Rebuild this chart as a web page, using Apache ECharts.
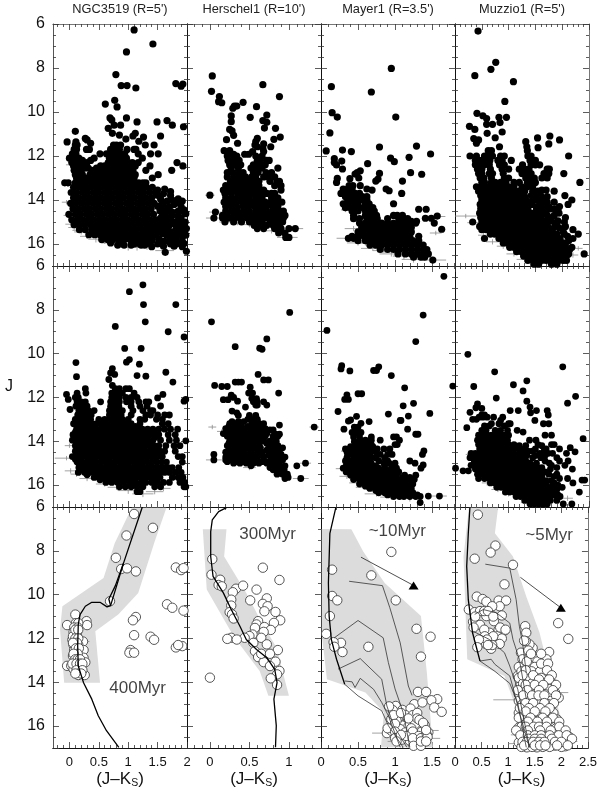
<!DOCTYPE html>
<html><head><meta charset="utf-8">
<script src="https://cdn.jsdelivr.net/npm/echarts@6/dist/echarts.min.js"></script>
<style>html,body{margin:0;padding:0;background:#fff}#c{width:600px;height:790px}</style>
</head><body><div id="c"></div>
<script>
// Every row is [J, colour, colour, ...]
const ngcAll=[[6.27,1.1],[6.91,1.42],[7.27,.97],[8.3,.79],[8.8,.88,.98],[8.91,1.13],[8.71,1.81],[8.83,1.9],[8.73,1.93],[9.47,.77],[9.64,.61],[9.77,.81],[10.27,.69,.97],[10.36,.72],[10.45,1.15,1.49],[10.6,.76,.87,1.75],[10.39,1.66],[10.67,1.94],[10.88,.1],[10.74,.66],[10.97,.73,1.12],[11.05,.85],[11.09,1.08,1.55],[11.23,.96],[11.14,1.26],[11.33,1.18],[11.36,-.04,.11],[11.2,.27],[11.27,.3],[11.42,.36],[11.5,.1,.13,.75,.8,.87,1.29,1.44],[11.7,.08,.12,.29,.34,.7,.78,.85,.98,1.1,1.13],[11.9,.05,.11,.52,.63,.7,.79,.86,.94,1.17,1.38,1.51],
[12.1,0,.05,.1,.16,.42,.68,.75,.83,.9,.97,1.24],[12.3,.04,.09,.14,.21,.3,.66,.72,.79,.86,.93,1,1.07,1.17,1.83],[12.45,.07,.13,.18,.53,.6,.68,.75,.83,.9,.98,1.05,1.12,1.37,1.93],[12.65,.08,.14,.2,.38,.45,.52,.58,.65,.72,.8,.87,.94,1.01,1.08,1.3,1.74],[12.85,.1,.16,.22,.35,.42,.5,.56,.63,.7,.77,.84,.91,.98,1.05,1.12,1.51],[13,.12,.18,.3,.37,.46,.53,.6,.68,.75,.82,.89,.96,1.03,1.1,1.41],[13.22,-.08,-.02,.1,.16,.22,.28,.35,.42,.49,.56,.63,.7,.77,.84,.91,.98,1.05,1.12,1.18,1.25,1.3],
[13.42,.07,.17,.27,.36,.46,.55,.65,.74,.84,.93,1.03,1.12,1.22,1.31,1.41],[13.66,.03,.12,.22,.31,.41,.5,.6,.69,.79,.88,.98,1.07,1.17,1.26,1.36,1.46],[13.9,.07,.16,.26,.35,.45,.54,.64,.73,.83,.92,1.02,1.11,1.21,1.3,1.4],[14.15,.02,.11,.21,.3,.4,.49,.59,.68,.78,.87,.97,1.06,1.16,1.25,1.35,1.44],[14.4,.06,.15,.25,.34,.44,.53,.63,.72,.82,.91,1.01,1.1,1.2,1.29,1.39],[14.65,-.01,.1,.19,.29,.38,.48,.57,.67,.76,.86,.95,1.05,1.14,1.24,1.33,1.43],[14.9,.04,.14,.23,.33,.42,.52,.61,.71,.8,.9,.99,1.09,1.18,1.28,1.37,1.47],[15.12,.08,.17,.26,.36,.45,.55,.64,.74,.83,.93,1.02,1.12,1.21,1.31,1.4,1.5],[15.35,.17,.27,.38,.48,.57,.67,.76,.86,.95,1.05,1.14,1.24,1.33,1.43,1.52],[15.58,.33,.43,.52,.62,.71,.81,.9,1,1.09,1.19,1.28,1.38,1.47],[15.8,.55,.65,.74,.84,.93,1.03,1.12,1.22,1.31,1.41],[16.05,.82,.93,1.05,1.22,1.28],[16.38,1.63],[16.33,1.99],
[13.55,1.5],[13.72,1.6],[13.8,1.72],[13.95,1.55,1.85],[14.05,1.66,1.92],[14.2,1.78],[14.28,1.5,1.6],[14.45,1.7,1.95],[14.5,1.85,1.54],[14.62,1.62,1.98],[14.7,1.75],[14.82,1.9,1.55,1.68],[15,1.8,1.62,1.97],[15.15,1.7,1.9],[15.3,1.6,1.82,1.99],[15.45,1.75,1.92],[15.6,1.65,1.85,1.98],[15.75,1.52,1.78],[15.88,1.92,1.62],[16,1.72,1.82,1.5],[16.12,1.92,1.4],
[12.55,.26,.32,.46],[12.2,.22,.36],[13.05,.24,.25],[13.5,1.62],[13.62,1.72],[13.78,1.5],[14,1.75],[14.12,1.85,1.58],[14.3,1.7,1.9],[14.4,1.58],[14.55,1.65,1.75,1.95],[14.72,1.58,1.85],[14.92,1.72,1.85,1.6],[15.08,1.55,1.78,1.94],[15.22,1.62,1.85],[15.38,1.5,1.68,1.95],[15.52,1.58,1.82],[15.68,1.72,1.92],[15.85,1.4,1.55,1.7,1.82],[15.98,1.32,1.95],[16.1,1.6,1.78],[16,1.1,1.2],[15.95,.7,.9]];
const herAll=[[8.36,.03],[9.06,.02],[9.3,.12,.88],[9.53,.11],[9.58,.15],[9.73,.31,.34],[9.83,.29],[9.56,.42],[9.76,.59],[8.76,.67],[10.18,.27],[10.44,.27],[10.24,.51],[10.14,.72],[10.39,.67],[10.47,.72],[10.73,.69],[10.74,.83],[10.79,.25],[10.86,.28],[11.06,.3],[11.14,.89],[11.24,.81],[11.26,.21],[11.42,.35],[11.2,.6],[11.35,.58],[11.5,.57],[11.58,.6,.77],[11.45,.68],[11.65,.67],[11.76,.18,.25],[11.92,.44,.49,.26,.3],[11.8,.54,.68],[12,.22,.3,.34,.58,.66],[12.2,.23,.31,.37,.6,.64,.72,.75],[12.4,.25,.32,.39,.55,.62,.7],[12.55,.27,.36,.52,.59,.66,.86],[12.75,.22,.29,.35,.42,.55,.61,.71,.78],[12.95,.22,.3,.37,.45,.53,.58,.68,.74,.82],[13.15,.26,.33,.4,.48,.55,.62,.76,.85,.88],[13.35,.2,.28,.34,.42,.5,.57,.62,.82,.9],[13.55,.17,.25,.31,.38,.46,.53,.6,.68,.9],[13.7,.19,.27,.35,.42,.49,.56,.64,.72,.78,.82],[13.78,0],[13.9,.2,.28,.36,.43,.5,.58,.66,.78,.86],[14.1,.18,.26,.33,.41,.48,.55,.62,.7,.77,.84,.91],[14.3,.2,.27,.34,.42,.49,.57,.64,.71,.79,.86],[14.5,.2,.28,.35,.43,.5,.58,.65,.72,.8,.88,.93],[14.55,.07],[14.7,.16,.22,.3,.37,.45,.52,.6,.67,.75,.83,.91,.95],[14.82,.05,.16,.24,.32,.39,.47,.55,.63,.7,.78,.86,.93],[15,.19,.3,.4,.5,.58,.66,.76,.84,.92],[15.15,.56,.65,.72,.8,.88],[15.3,.6,.68,.82,.9,1,1.08],[15.5,.87,.95],[15.7,.96,1]];
const mayAll=[[8.85,.14],[9.09,.68],[8.02,.95],[10.03,.15],[10.23,.22,1.01],[10.95,.12],[11.77,.07],[11.73,.29],[11.8,.41],[11.59,.79],[11.55,1.29],[11.91,1.48],[12.06,1.19],[12.1,.94],[12.26,.99],[12.35,.63],[12.12,.18],[12.3,.18],[12.41,.21],[12.23,.28],[12.59,.29],[12.67,.53],[12.76,.49,1.21],[12.82,.46],[12.79,.79],[12.83,1.36],[13.02,.22],[13.2,.21],[13.03,.39],[13,.51],[13.05,.77],[13.14,.74,1.1],[13.35,.38,.43,.53],[13.5,.3,.36,.42,.62,.88],[13.58,.92],[13.55,.69],[13.7,.27,.33,.39,.46,.52,1.09],[13.85,.33,.39,.44,.5,.56,.62],[14,.36,.42,.48,.57,.62],[14.17,.3,.38,.44,.5,.6,.65,.98],[14.35,.33,.4,.45,.52,.58,.65,.7],[14.42,1.32,1.42],[14.5,.42,.5,.6,.66,.72],[14.7,.44,.6,.68,.75,.98,1.03,1.1],[14.73,1.57],[14.83,1.49,1.41],[14.85,.44,.52,.62,.68,.76,.9,1.05,1.12,1.17],[14.97,1.22,1.29],[15.05,.52,.6,.68,.75,.82,.9,.98,1.05,1.12,1.2,1.28,1.53],[15.25,.55,.62,.7,.77,.84,.92,.99,1.06,1.14,1.2,1.22],[15.33,1.63],[15.45,.5,.58,.65,.72,.8,.87,.95,1.02,1.1,1.17,1.22],[15.65,.42,.5,.58,.66,.74,.82,.9,.98,1.06,1.14,1.2,1.32],[15.74,.37,.44],[15.85,.5,.6,.68,.76,.84,.92,1,1.08,1.16,1.24,1.32],[16.05,.66,.74,.82,.9,.98,1.06,1.14,1.22,1.3,1.38],[16.25,.8,.9,.98,1.06,1.14,1.22,1.3,1.38,1.43],[16.45,1.04,1.14,1.22,1.3,1.38,1.45],[16.6,1.25,1.35,1.4],[16.73,1.51]];
const muzAll=[[6.32,.43],[7.74,.76],[8.06,.67],[8.35,.37],[8.62,1.09],[9.52,.93],[10.06,.41],[10.17,.52],[10.3,.59],[10.24,.82,.96],[10.48,.84],[10.65,.27],[10.79,.37],[10.56,.59,.7],[10.97,.6],[10.91,.88],[11.17,.75],[11.21,.35],[11.27,.44],[11.42,.4],[11.18,1.54],[11.09,1.77],[11.27,1.95],[11.62,1.55],[11.45,1.75],[11.35,1.32],[11.58,1.34,.83],[11.76,1.35,.62,.68],
[12,.28,.4,.55,.62,.7,.85,.92,1.36,1.42,2.12],[12.2,.38,.44,.5,.58,.65,.8,.88,1.05,1.4,1.5],[12.4,.38,.45,.55,.64,.83,.92,1.26,1.42,1.5,1.58],[12.6,.42,.5,.66,.88,1,1.2,1.3,1.38,1.72,1.76],[12.8,.44,.5,.64,.7,.9,1.25,1.34,1.42,1.66,1.75,2.03],[13,.47,.54,.68,.92,1,1.32,1.4,1.48,1.62,1.72],[13.2,.5,.55,.68,.75,.85,.95,1.1,1.2,1.35,1.42,1.5,2.33],[13.4,.4,.5,.58,.65,.72,.8,.9,1,1.1,1.25,1.35,1.45],[13.6,.44,.5,.57,.65,.72,.8,.88,.96,1.05,1.12,1.2,1.3,1.45,1.55,1.85],[13.8,.48,.55,.62,.7,.78,.85,.92,1,1.08,1.15,1.24,1.42,1.5,1.6,2.05],[14,.5,.58,.66,.74,.82,.9,.98,1.08,1.16,1.24,1.32,1.48,1.55,1.65,2.18],[14.2,.47,.55,.63,.71,.79,.87,.95,1.03,1.11,1.19,1.27,1.35,1.43,1.59,1.67,2.11],[14.4,.48,.56,.64,.72,.8,.88,.96,1.04,1.12,1.2,1.28,1.36,1.52,1.6,1.78,1.86],[14.6,.46,.54,.62,.7,.78,.86,.94,1.02,1.1,1.18,1.26,1.34,1.42,1.5,1.66,1.94],[14.8,.48,.56,.64,.72,.8,.88,.96,1.04,1.12,1.2,1.28,1.36,1.44,1.52,1.6,1.76,2.06],[15,.33,.5,.58,.66,.74,.82,.9,.98,1.06,1.14,1.22,1.3,1.38,1.46,1.54,1.62,2.04],[15.2,.46,.54,.62,.7,.78,.86,.94,1.02,1.1,1.18,1.26,1.34,1.42,1.5,1.58,1.66,1.86,2.06],[15.35,.5,.58,.66,.74,.82,.9,.98,1.06,1.14,1.22,1.3,1.38,1.46,1.54,1.62,1.78,2.2],[15.55,.66,.74,.82,.9,.98,1.06,1.14,1.22,1.3,1.38,1.46,1.54,1.62,1.7,1.9,2.04,2.3],[15.75,.55,.82,.9,.98,1.06,1.14,1.22,1.3,1.38,1.46,1.54,1.62,1.7,1.78,1.96,2.2],[15.95,.9,.98,1.06,1.14,1.22,1.3,1.38,1.46,1.54,1.62,1.7,1.78,1.86,2.02],[16.15,1.02,1.1,1.18,1.26,1.34,1.42,1.5,1.58,1.66,1.74,1.82,1.9,1.98,2.18],[16.35,1.15,1.24,1.32,1.4,1.48,1.56,1.64,1.72,1.8,1.88,1.96,2.04],[16.45,2.41],[16.55,1.28,1.36,1.44,1.52,1.6,1.68,1.76,1.84,1.92,2,2.08],[16.75,1.36,1.46,1.54,1.62,1.7,1.78,1.86,1.94,2.02,2.08],[16.92,1.48,1.56,1.8,1.9],
[13.55,1.7,1.62],[13.85,1.72,1.3],[14.1,1.42,1.72,1.85],[14.3,1.52,1.75,1.95],[14.5,1.58,1.7,1.92],[14.7,1.58,1.72,1.85],[14.95,1.7,1.8,1.92],[15.1,1.62,1.72,1.9],[15.28,1.75,1.95,1.65],[15.45,1.7,1.82,2.02],[15.65,1.78,1.88,2.1],[15.85,1.85,1.95,2.12],[16.05,1.9,2.06],[16.25,2.08,2.14],[16.45,2.12]];
const ngcCtl=[[6.86,1.25],[7.17,1.02],[7.76,1.26,1.81],[8.55,1.29],[8.76,.78],[9,1.68],[9.24,1.95],[9.76,.94,1.22],[10.27,1.02],[10.39,.97],[10.48,1.19],[10.41,.11],[10.68,.73],[10.88,.7],[10.95,.77],[11.05,.12],[11,1.15],[11.03,1.3],[10.85,1.64],[11.18,.67],[11.3,1.76],[11.45,.73],[11.86,-.05,1.59],[12.02,1.5],[12.17,1.95],[12.09,1.98,-.02],[12.39,1.55],[13.98,1.98],[12.55,.01],
[11.6,.27,.78,.85,.96,1.02],[11.8,.13,.28,.72,.8,.9,1.1],[12,.1,.15,.72,.78,.85,.96,1.05,1.15],[12.2,.13,.2,.27,.53,.7,.78,.85,.97,1.05,1.18,1.3,1.35],[12.4,.11,.17,.23,.3,.7,.77,.84,1.05,1.2,1.32],[12.6,.16,.25,.32,.42,.68,.76,.83,.9,1.08,1.25,1.38,1.42],[12.8,.14,.22,.3,.37,.68,.75,.82,.88,1.05,1.3,1.38,1.5,1.62,1.7],[13,.1,.2,.28,.36,.5,.6,.68,.75,.83,.9,1,1.2,1.28,1.48,1.58],[13.2,.07,.14,.22,.3,.38,.46,.55,.64,.72,.8,.88,.96,1.05,1.2,1.58,1.68],[13.45,.12,.2,.28,.36,.44,.52,.6,.68,.76,.84,.92,1,1.08,1.16,1.24,1.33,1.42,1.52,1.62,1.72,1.84],[13.7,.06,.16,.24,.32,.4,.48,.56,.64,.72,.8,.88,.96,1.04,1.12,1.2,1.28,1.36,1.44,1.52,1.68,1.8],[13.95,.05,.1,.2,.28,.36,.44,.52,.6,.68,.76,.84,.92,1,1.08,1.16,1.24,1.32,1.42,1.55,1.7,1.82],[14.2,.1,.15,.24,.32,.4,.48,.56,.64,.72,.8,.88,.96,1.04,1.12,1.2,1.28,1.36,1.44,1.52,1.64,1.78,1.88],[14.45,.1,.18,.26,.34,.42,.5,.58,.66,.74,.82,.9,.98,1.06,1.14,1.22,1.3,1.38,1.46,1.54,1.62,1.8],[14.7,.05,.14,.22,.3,.38,.46,.54,.62,.7,.78,.86,.94,1.02,1.1,1.18,1.26,1.34,1.42,1.5,1.58,1.85,1.92],[14.95,.13,.21,.29,.37,.45,.53,.61,.69,.77,.85,.93,1.01,1.09,1.17,1.25,1.33,1.41,1.49,1.57,1.65,1.92],[15.2,.16,.24,.32,.4,.48,.56,.64,.72,.8,.88,.96,1.04,1.12,1.2,1.28,1.36,1.44,1.52,1.6,1.68,1.75,1.86],[15.42,.15,.26,.34,.42,.5,.58,.66,.74,.82,.9,.98,1.06,1.14,1.22,1.3,1.38,1.46,1.54,1.62,1.7,1.8,1.9],[15.65,.42,.5,.58,.66,.74,.82,.9,.98,1.06,1.14,1.22,1.3,1.38,1.46,1.54,1.75,1.85,1.93],[15.88,.62,.72,.82,.92,1.02,1.12,1.22,1.3,1.4,1.5,1.6,1.7,1.88,1.96],[16.08,.85,.95,1.05,1.15,1.25,1.45,1.55,1.95,1.98],[16.3,1.15,1.2],
[13.32,.16,.26,.34,.43,.6,.7,.86,1.12,.98],[13.58,.1,.18,.26,.34,.46,.58,.66,.78,.9,1.02,1.14,1.26,1.38,1.5],[13.82,.13,.24,.36,.48,.6,.72,.84,.96,1.08,1.2,1.32,1.46],[14.08,.14,.25,.36,.5,.62,.74,.86,.98,1.1,1.22,1.36],[14.32,.17,.29,.41,.53,.65,.77,.89,1.01,1.13,1.25,1.4],[14.58,.12,.24,.36,.48,.6,.72,.84,.96,1.08,1.2,1.32,1.46],[14.82,.1,.2,.32,.44,.56,.68,.8,.92,1.04,1.16,1.28,1.42],[15.08,.17,.28,.4,.52,.64,.76,.88,1,1.12,1.24,1.38],[15.32,.22,.34,.46,.58,.7,.82,.94,1.06,1.18,1.3,1.44],[15.53,.3,.46,.6,.72,.84,.96,1.08,1.2,1.34,1.5],[15.76,.52,.64,.76,.88,1,1.12,1.26,1.42]];
const herCtl=[[8.55,.02],[8.12,1.01],[9.68,.32],[9.33,.72],[9.75,.63],[9.8,.66],[10.95,.61],[11.45,.06],[11.5,.15,.22],[11.3,.32,.36,.4],[11.2,.68,.74],[11.53,.51],[11.8,.87,.49,.54],[13.35,1.32],[12.1,.17,.23],[11.9,.27],[12,.3],[12.17,.35],[12.05,.53,.59],[12.2,.55,.6,.68],[12.35,.58,.6,.72],[12.44,.45],[12.62,.28],[12.7,.34],[12.82,.36,.5,.58],[13,.48,.55,.6],[13.2,.25,.32,.38,.53,.62,.68],[13.26,.88],[13.42,.2,.28,.36,.44,.55,.62,.7],[13.48,.76,.8],[13.65,.17,.25,.33,.41,.48,.56,.64,.72],[13.68,.88,.83],[13.88,.29,.37,.45,.53,.6,.68,.8],[14.1,.24,.32,.4,.48,.55,.62,.72,.8],[14.3,.25,.33,.41,.49,.57,.64,.75,.83,.92],[14.5,.2,.28,.36,.44,.52,.6,.66,.76,.84],[14.6,.05,.9],[14.72,.2,.27,.35,.43,.51,.59,.68,.78,.86,.95],[14.85,.05,.2,.28,.36,.44,.52,.6,.68,.77,.85,.92],[15,.3,.38,.46,.55,.62,.72,.8,.88,1.21],[15.12,.52,.8,.95,1.1],[15.3,.8,.87,.94],[15.5,.85,.92,.98],[15.65,.99],[15.7,1.15,.95],
[13.1,.28,.36,.43,.6],[13.32,.24,.32,.4,.48,.58,.66],[13.54,.22,.3,.38,.46,.52,.6,.68],[13.77,.22,.3,.39,.47,.55,.62,.7,.8,.86],[14,.25,.33,.42,.5,.58,.66,.76,.84],[14.2,.22,.29,.37,.45,.53,.6,.78,.86],[14.4,.27,.35,.43,.52,.62,.72,.8,.88],[14.62,.22,.32,.4,.48,.56,.64,.74,.82,.9],[14.93,.22,.34,.42,.5,.58,.66,.74,.82],[15.2,.76,.84,.9]];
const mayCtl=[[6.47,1.66],[8.24,1.38],[8.94,.08],[9.45,1.28],[10.55,.28],[10.7,.27],[10.79,.39],[10.77,.71,.75],[10.6,.78],[11,.95],[11.56,1.13],[11.48,1.78],[11.88,.35],[12.09,.32,.37],[11.83,.5,.55],[12.38,1.11],[12.27,1.25],[12.64,.23],[12.76,.91],[12.73,1.47],[12.85,1.18],[12.86,.48],[13.05,1.07,1.08],[13.08,.37],[13.03,.4],[13.1,.65],[13.18,.54],[13.45,.31,1.17],[13.35,.45,.5],[13.68,1.28,1.31],[13.6,.42,.48,.54],[13.8,.44,.52,.68,.98,1.02],[13.95,.53,.6,.68,.8,1.06],[14.15,.5,.58,.68,1,1.03],[14.44,1.39],[14.35,.33,.38,.44,.5,.56,.63,.76,.85,.93],[14.6,.36,.42,.48,.54,.6,.66,.8,.9,.96,1.37],[14.9,.33,.42,.5,.58,.66,.78,.9,1.2],[15,.37,.44,.52,.6,.68,.85,.92,1,1.27],[15.08,1.38],[15.23,.3,.38,.46,.54,.62,.7,.78,.95,1.02,1.35],[15.4,.34,.42,.5,.58,.66,.74,.82,.9,.98,1.05],[15.55,.4,.46,.54,.62,.7,.78,.86,.94,1.02,1.13,1.28],[15.75,.44,.52,.6,.68,.76,.84,.92,1,1.08,1.15,1.26],[15.95,.52,.6,.68,.76,.84,.92,1,1.08,1.16,1.24],[16.15,.66,.74,.82,.9,.98,1.06,1.14,1.22],[16.35,.78,.86,.94,1.02,1.1,1.18,1.24],[16.52,.98,1.06,1.12,1.2,1.28,1.34],[16.5,1.45,1.6],[16.8,1.34],
[14.02,.45,.55,.63],[14.25,.4,.47,.54,.62,.7],[14.48,.35,.45,.52,.6,.68,.74],[14.75,.35,.44,.52,.6,.68,.74,.86],[15.12,.34,.42,.5,.58,.66,.74,.86],[15.32,.38,.46,.54,.62,.7,.8,.88,.96],[15.65,.48,.56,.64,.72,.8,.88,.96,1.1,1.2],[15.85,.56,.64,.72,.8,.88,.96,1.04,1.12,1.22],[16.05,.6,.7,.78,.86,.94,1.02,1.1,1.2],[16.25,.74,.84,.92,1,1.08,1.18],[16.45,.9,1,1.1,1.2,1.3]];
const muzCtl=[[10.03,.24],[10.6,2.01],[10.83,.74],[11.24,1.34],[11.5,.35],[11.42,1.09],[11.7,1.27],[11.95,2.25],[12.03,.77],[12.17,1.34],[12.26,2.1],[12.44,1.4],[12.29,.42],[12.47,.39],[12.5,.5],[12.68,.28],[12.6,1.03,1.18,1.52,1.72],[12.8,1.74,.5,.55],[12.7,1.41],[12.9,.72,.89,.45,.52,.6],[13.05,1.49,.85],[13,.33,.4],[13.2,1.75,1.65,.68,.82,1,1.03],[13.38,.22],[13.3,.55,.64,.92],[13.5,.5,.58,.75,.85,.98,1.16],[13.58,1.27],[13.72,.44,.52,.6,.68,.76,.84,.92,1,1.68,1.8],[13.95,.42,.5,.58,.66,.74,.82,.9,.98,1.39,1.51],[13.88,2.39],[14.15,.44,.52,.6,.68,.76,.84,.92,1,1.1,1.55,1.8,1.85],[14.29,2.15],[14.35,.46,.54,.62,.7,.78,.86,.94,1.02,1.1,1.2,1.3,1.5,1.7,1.95],[14.48,2.24],[14.55,.3,.38,.46,.54,.62,.7,.78,.86,.94,1.02,1.1,1.2,1.26,1.58,1.74,1.82,2.08],[14.75,.28,.38,.46,.54,.62,.7,.78,.86,.94,1.02,1.1,1.18,1.26,1.45,1.6,1.9],[14.9,.36,.44,.52,.6,.68,.76,.84,.92,1,1.08,1.16,1.24,1.32,1.68,1.95,2.11],[15.1,.3,.4,.48,.56,.64,.72,.8,.88,.96,1.04,1.12,1.2,1.28,1.36,1.44,1.8,2.05],[15.27,.38,.46,.54,.62,.7,.78,.86,.94,1.02,1.1,1.18,1.26,1.34,1.42,1.5,1.78,2.19],[15.23,.01],[15.35,.15,.25],[15.5,.42,.5,.58,.66,.74,.82,.9,.98,1.06,1.14,1.22,1.3,1.38,1.46,1.75,1.9],[15.7,.44,.55,.64,.72,.8,.88,.96,1.04,1.12,1.2,1.28,1.36,1.44,1.52,1.95,2.1],[15.77,2.37,2.42],[15.9,.66,.74,.82,.9,.98,1.06,1.14,1.22,1.3,1.38,1.46,1.54,1.62,1.85,2.2],[16.1,.78,.86,.94,1.02,1.1,1.18,1.26,1.34,1.42,1.5,1.58,1.66,1.74,2],[16.32,.94,1.02,1.1,1.18,1.26,1.34,1.42,1.5,1.58,1.66,1.74,1.82,2.32],[16.52,1.14,1.22,1.3,1.38,1.46,1.54,1.62,1.7,1.78,1.96],[16.7,1.3,1.38,1.46,1.54,1.62,1.7,1.78,1.9],[16.86,1.4,1.48,1.56,1.64,1.72,2.18,2.02],
[14.2,1.2,1.32,1.62],[14.45,1.36,1.44,1.66],[14.65,1.34,1.5,1.68],[15,1.4,1.52,1.76],[15.2,1.55,1.62,1.9],[15.4,1.5,1.58,1.68],[15.6,1.55,1.62,1.85],[15.8,1.6,1.7,1.8],[16,1.7,1.82,1.92],[16.2,1.82,1.9],[16.45,1.85,1.92]];
const ngcSel=[[6.32,1.1],[6.95,1.42],[7.3,.97],[8.32,.79],[8.83,.88],[8.8,.98],[8.94,1.13],[8.76,1.81],[8.88,1.9],[8.79,1.94],[10.3,.69],[10.44,1.66],[10.6,1.75],[10.73,1.94],[10.91,.1],[11.02,1.13],[11.17,1.08],[11.21,.29],[11.39,.3,-.04],[11.3,.11,.15],[11.5,.08,.14],[11.85,1.1],[11.92,1.38],[12.06,1.44,.05],[11.7,.07,.13],[11.9,.06,.13],[12.14,.23,.09],[12.3,.07,.15],[12.35,1.92],[12.41,1.81],[12.3,1.85],[12.53,1.04,.24,.08,.14],[12.65,1.02,1.1,.09],[12.8,.06,.13],[12.88,.24],[13.09,.27,.1],[13.25,-.04,.03,.14],[13.3,.08,.17],[13.4,.2,.07],[13.55,.14,.18],[13.67,.26,.15],[11.6,.1,.15],[12,.1,.15],[12.2,.13,.06],[12.45,.11,.16],[12.7,.14,.07],[12.95,.1,.14,.18],[13.15,.05,.12,.18,.22],[13.45,.12,.22],[13.6,.2,.1]];
const herSel=[[8.38,.03],[8.77,.67],[9.09,.02],[9.33,.88],[9.32,.13],[9.56,.11],[9.62,.15],[9.73,.33],[9.89,.29],[9.59,.42],[9.77,.59],[10.26,.51],[10.23,.27],[10.5,.27],[10.17,.72],[10.42,.67],[10.53,.73],[10.76,.69],[10.79,.83],[10.8,.25],[10.9,.28],[11.09,.3],[11.17,.89],[11.29,.81],[11.21,.61],[11.36,.59],[11.52,.57],[11.48,.69],[11.61,.77],[11.7,.68],[11.82,.54],[11.89,.5],[11.97,.44,.27,.65],[12.02,.22],[12.05,.34],[12.2,.55],[12.27,.72],[12.58,.57],[12.53,.86],[12.85,.61],[13.08,.68],[12.7,.65,.76],[13.06,.83],[13.26,.76],[13.48,.88],[13.64,.85],[13.82,.77],[14.12,.85],[13.79,0]];
const maySel=[[8.05,.95],[8.86,.15],[9.12,.68],[10.06,.15],[10.26,.22,1.01],[10.98,.12],[11.79,.07],[11.56,1.29],[11.92,1.48],[12.2,.27],[12.17,.17],[12.38,.18,.64],[12.62,.29],[12.83,1.35],[14.44,1.31,1.42],[14.77,1.57],[14.82,1.49],[15,1.26],[14.92,1.37],[15.15,1.53],[15.35,1.63],[15.08,1.01],[15.27,.97],[15.26,1.1],[15.2,1.21],[15.6,1.05],[15.68,.95],[15.83,1.17],[15.98,1.1],[16.02,1,1.18,1.34],[16.32,.89],[16.36,1.03],[16.14,1.31,1.07],[16.44,1.24],[16.56,1.41],[16.26,1.36],[16.29,1.14,1.45],[15.91,1.27],[16.62,1.09],[16.67,1.2],[16.77,1.29],[16.21,.95],[15.5,1.14,1.24],[15.75,1.02],[15.4,1.3],[15.1,.92],[15.5,.98],[15.9,1],[15.65,1.3,1.18],[16.1,.9,1.22],[16.25,1,1.24],[16.45,1.32,1.15],[16.55,1,1.24,1.35],[16.4,1.43],[16.9,1.25,1.35],[15.72,1.33],[15.95,1.4],[16.4,1.08],[15.4,1.08],[15.85,1.38],[16.5,1.44],[16.7,1.35,1.42,1.02],[16.18,1.42]];
const muzSel=[[6.35,.43],[7.76,.76],[8.08,.67],[8.36,.37],[8.64,1.09],[9.53,.93],[10.09,.41],[10.2,.52],[10.32,.59],[10.27,.82,.96],[10.68,.26],[10.53,.84,.7],[10.8,.37],[10.98,.59],[10.95,.88],[11.24,.34],[11.38,.47],[11.21,.73],[11.3,1.94],[12.02,2.13],[11.44,1.32],[11.74,.65,1.34],[11.64,.93],[11.6,.82],[11.9,.8],[12,.88],[12.17,.52],[12.47,.68],[12.25,.58,.84],[12.62,1.77],[12.43,1.46],[12.27,1.4],[12.12,1.33],[12.65,1.24],[12.95,1.72,1.27],[12.88,1.48],[13.71,1.18],[13.59,1.37],[13.64,1.55],[13.41,1.65],[13.25,1.3,1.42],[13.94,1.7,1.3,1.45],[14.17,1.74,1.22,1.38,1.55],[14.47,1.88,1.27],[14.7,1.95,1.42,1.62,1.75],[14.4,1.43,1.65],[14.24,1.55],[14.89,1.29,1.5],[14.77,1.58],[15.1,1.71,1.35,1.52],[15.53,1.37,1.52],[15.5,1.77],[15.6,1.58,1.28],[15.15,1.46],[16,1.87,1.43],[16.22,2,1.55],[16.07,1.2],[16.14,1.65],[16.6,2.11],[16.67,1.99,1.27],[16.63,1.77],[16.45,1.58],[16.37,1.43],[16.82,1.43,1.65],[16.97,1.54,1.35],[16.89,1.87],[16.92,2.07],[16.5,1.85,1.25],[16.9,1.75],
[12.1,1.3],[12.55,1.38],[13.05,1.35,1.55],[13.3,1.2,1.5],[13.5,1.25,1.44,1.6],[13.8,1.2,1.35,1.52,1.62],[14.05,1.28,1.45,1.6,1.83],[14.3,1.3,1.48,1.62,1.78],[14.55,1.2,1.35,1.5,1.7,1.82],[14.85,1.2,1.4,1.62,1.8],[15,1.27,1.42,1.58,1.75],[15.25,1.25,1.4,1.55,1.65,1.8],[15.4,1.2,1.48,1.62,1.72,1.85],[15.7,1.25,1.35,1.45,1.65,1.78,1.92],[15.85,1.3,1.52,1.68],[16.1,1.28,1.38,1.5,1.62,1.74,1.9],[16.3,1.2,1.32,1.46,1.65,1.75,1.88,2.05],[16.5,1.32,1.44,1.55,1.7,1.9,2.02,2.15],[16.75,1.2,1.3,1.4,1.52,1.6,1.72,1.82,1.95,2.05],[16.95,1.25,1.45,1.65,1.78,2],
[10.75,.47,.55,.62],[11,.38,.72],[11.5,.35,.85],[11.6,.55,.95],[11.9,.56,.72],[12.05,.6,.45],[12.3,.7,.62],[12.4,.42],
[12.7,1.43,1.62],[13.15,1.62,1.75],[13.45,1.33,1.73],[13.68,1.27,1.47,1.82],[13.87,1.58,1.77],[14.12,1.33,1.5,1.66,1.9],[14.36,1.18,1.36,1.58,1.84],[14.6,1.28,1.45,1.57,1.68,1.9],[14.95,1.33,1.47,1.68,1.86],[15.18,1.22,1.39,1.6,1.78],[15.33,1.33,1.5,1.7],[15.62,1.2,1.42,1.65,1.84],[15.8,1.37,1.55,1.73,1.96],[16.03,1.25,1.33,1.48,1.58,1.72,1.96],[16.2,1.15,1.37,1.6,1.8,2.08],[16.42,1.23,1.37,1.5,1.62,1.78,1.95,2.1],[16.58,1.38,1.5,1.62,1.82,2.2],[16.72,1.27,1.35,1.47,1.58,1.68,1.88,2],[16.88,1.3,1.5,1.6,1.7,1.92,2.12]];
// Measurement errors: [colour, J, err colour, err J]
const ngcAllErr=[[.03,15.1,.1,.12],[.08,15.25,.1,.12],[.2,15.45,.12,.12],[.3,15.65,.12,.12],[.45,15.78,.13,.15],[.72,15.95,.16,.15],[1,16.15,.18,.15],[1.32,16.12,.18,.15],[1.62,16.3,.16,.15],[1.9,16,.12,.15],[0,14.7,.1,.1],[-.05,14.1,.08,.1],[-.03,13.3,.08,.1],[.02,12.4,.08,.1],[.6,15.85,.12,.15],[.15,15.38,.1,.12],[1.15,16.15,.15,.15]];
const herAllErr=[[.05,14.82,.1,.12],[.07,14.55,.08,.1],[0,13.78,.06,.1],[.2,15,.08,.12],[.5,15.12,.08,.12],[.78,15.4,.1,.12],[1.1,15.3,.08,.12],[.98,15.7,.13,.12],[.3,12.75,.06,.1],[.35,15.05,.08,.1]];
const mayAllErr=[[.37,15.74,.16,.12],[.44,15.3,.12,.12],[.5,15.95,.15,.12],[.7,16.2,.16,.12],[.95,16.45,.16,.12],[1.25,16.7,.16,.15],[1.51,16.73,.18,.15],[1.55,15.5,.08,.1],[1.6,14.75,.08,.1],[.33,14.45,.06,.1],[.6,15.95,.13,.12],[.85,16.3,.15,.12],[1.12,16.55,.15,.15]];
const muzAllErr=[[.2,14.73,.2,.1],[.33,15.03,.1,.1],[.53,15.6,.1,.12],[.9,16.1,.12,.12],[1.3,16.7,.15,.12],[2.2,16.5,.1,.12],[2.3,16.2,.08,.1],[1.85,14.4,.08,.1],[.7,15.9,.12,.12],[1.1,16.45,.14,.12]];
const ngcCtlErr=[[-.05,14.77,.2,.1],[.02,15.35,.1,.12],[.12,15.5,.1,.12],[.3,15.7,.13,.12],[.6,15.95,.15,.12],[1,16.25,.18,.15],[1.25,16.4,.18,.15],[1.6,16.15,.12,.12],[0,14.2,.08,.1],[.8,16.1,.15,.12],[1.45,16.3,.15,.12]];
const herCtlErr=[[.05,14.85,.1,.12],[.03,13.35,.05,.1],[.15,13.55,.06,.1],[1.32,13.35,.06,.1],[.5,15.2,.08,.12],[1.21,15,.07,.1],[1.15,15.7,.1,.1],[.95,15.6,.08,.12]];
const mayCtlErr=[[.3,15.25,.1,.12],[.35,15.6,.1,.12],[.5,15.9,.12,.12],[.75,16.4,.16,.12],[1.2,16.6,.16,.15],[1.6,16.5,.1,.12],[.35,14.45,.08,.1],[.91,12.76,.05,.1],[.62,16.1,.15,.12],[.95,16.55,.15,.12]];
const muzCtlErr=[[.3,14.6,.1,.1],[.35,15.1,.08,.1],[.6,15.9,.1,.12],[1,16.4,.12,.12],[1.35,16.8,.12,.12],[2.1,16.6,.1,.12],[1.6,16.88,.18,.12],[.8,16.2,.12,.12]];
const ngcSelErr=[[.24,12.14,.1,.1],[.08,13.25,.1,.1]];
const herSelErr=[[.72,12.27,.06,.1]];
const maySelErr=[[.89,16.32,.2,.15],[1.2,16.1,.15,.15],[1.41,16.56,.2,.2],[1.05,16.7,.15,.15],[1.45,16.2,.14,.1]];
const muzSelErr=[[1.22,14.8,.5,.15],[1.88,14.47,.25,.1],[1.3,16,.2,.15],[1.2,16.8,.2,.15],[2.15,16.7,.15,.15],[1.2,16.4,.15,.15]];
// Grey sequence bands: [colour, J]
const ngcBand=[[1.06,6.03],[1.65,6.03],[1.45,7.58],[1.17,9.92],[.83,10.91],[.44,11.67],[.52,14.02],[-.09,14.02],[-.16,11.59],[-.12,10.53],[.58,9.24],[.77,7.65]];
const herBand=[[-.09,7.02],[.21,7.02],[.18,8.26],[.46,9.92],[.63,11.1],[.84,12.4],[1,14.62],[.74,14.62],[.63,13.48],[.3,11.9],[-.04,9.77]];
const mayBand=[[.01,7],[.41,7.02],[.57,8.03],[.86,9.47],[1.35,10.98],[1.43,13.56],[1.51,16.97],[.81,16.97],[.85,15.38],[.6,14.47],[.08,13.86],[.01,11.8]];
const muzBand=[[.26,6.03],[.81,6.03],[.75,7.2],[1.09,8.26],[1.34,10.08],[1.59,11.74],[1.96,15.38],[2.21,16.97],[1.15,16.97],[1.18,15.38],[.93,13.71],[.23,12.95],[.16,8.26]];
// Isochrones: [colour, J]
const ngcIso=[[1.24,6],[.92,8.56],[.7,10.5],[.64,10.56],[.52,10.35],[.38,10.35],[.27,10.53],[.18,10.91],[.15,11.36],[.14,12.35],[.15,13.26],[.24,14.02],[.38,14.77],[.49,15.53],[.63,16.21],[.84,16.97]];
const ngcIsoB=[[.92,8.56],[.78,9.6],[.67,10.2],[.7,10.5]];
const herIso=[[.21,6.03],[.11,6.21],[.03,6.59],[.01,7.12],[.01,8.26],[.04,9.17],[.17,9.92],[.27,10.68],[.38,11.44],[.46,12.05],[.59,12.5],[.72,12.88],[.82,13.41],[.85,14.02],[.81,14.77],[.84,15.98],[.83,16.97]];
const mayIso=[[.2,6.03],[.12,7.2],[.1,9.47],[.11,10.98],[.14,12.05],[.21,12.95],[.32,14.09]];
const mayPmsA=[[.38,9.39],[.83,9.59],[.93,10.6],[1.07,12.2],[1.18,14.17],[1.23,14.6]];
const mayPmsB=[[.18,11.97],[.5,11.18],[.84,11.97],[.91,13.1],[1,14.3],[1.11,15.38],[1.2,16.97]];
const mayPmsC=[[.23,13.4],[.53,12.92],[.82,13.86],[.89,15.08],[.98,15.98],[1.16,16.97]];
const mayPmsD=[[.32,13.94],[.42,13.98],[.46,14.24],[.53,13.82],[.71,14.32],[.82,14.92],[.91,15.53],[1.07,16.97]];
const mayPmsE=[[.32,14.09],[.5,14.62],[.82,15.3],[.91,15.98],[1.11,16.97]];
const muzIso=[[.28,6.03],[.25,7.2],[.22,8.71],[.25,10.23],[.33,11.74],[.47,13.03]];
const muzPmsA=[[.57,8.61],[1.03,8.79],[1.15,10.23],[1.21,11.44],[1.27,12.2],[1.34,13.56]];
const muzPmsB=[[.37,10.9],[.53,10.68],[.78,10.83],[1.03,11.3],[1.09,12.05],[1.21,12.95],[1.34,14.77]];
const muzPmsC=[[.34,11.67],[.65,12.05],[.93,12.65],[1.03,13.26],[1.18,14.32],[1.27,15.38],[1.4,16.97]];
const muzPmsD=[[.47,13.03],[.68,12.95],[.75,13.18],[1.03,13.71],[1.1,14.32],[1.21,15.38],[1.4,16.97]];
const muzPmsE=[[.47,13.03],[.75,13.5],[1.03,14.05],[1.18,14.95],[1.34,16.97]];
const mayArrow=[[.54,8.29],[1.25,9.58]];
const muzArrow=[[1.23,9.21],[1.99,10.6]];
const ageLabels=[['400Myr',1.16,14.27],['300Myr',.73,7.23],['~10Myr',1.03,7.09],['~5Myr',1.77,7.27]];
const clusterNames=["NGC3519 (R=5')","Herschel1 (R=10')","Mayer1 (R=3.5')","Muzzio1 (R=5')"];
const xRanges=[[-.28,2],[-.29,1.406],[0,1.81],[0,2.5]];
const xMajors=[[0,.5,1,1.5,2],[0,.5,1],[0,.5,1,1.5],[0,.5,1,1.5,2,2.5]];
const xMinors=[
 [-.2,-.1,.1,.2,.3,.4,.6,.7,.8,.9,1.1,1.2,1.3,1.4,1.6,1.7,1.8,1.9],
 [-.2,-.1,.1,.2,.3,.4,.6,.7,.8,.9,1.1,1.2,1.3],
 [.1,.2,.3,.4,.6,.7,.8,.9,1.1,1.2,1.3,1.4,1.6,1.7,1.8],
 [.1,.2,.3,.4,.6,.7,.8,.9,1.1,1.2,1.3,1.4,1.6,1.7,1.8,1.9,2.1,2.2,2.3,2.4]];
const colLefts=[53,187,321,455];
const rowTops=[24,266,507];
const rowHeights=[242,241,242];

const pts=rows=>rows.flatMap(r=>r.slice(1).map(c=>[c,r[0]]));
const FONT='"Liberation Sans", Arial, sans-serif';
const grid=[],xAxis=[],yAxis=[],series=[],title=[];
const edgeCol='#555',inCol='#111';

function addPanel(row,col){
  const g=grid.length;
  grid.push({left:colLefts[col],top:rowTops[row],width:134,height:rowHeights[row]});
  const [xmin,xmax]=xRanges[col];
  const base=xAxis.length;
  const topColor=row===0?'#777':inCol;
  const tick=(position,values,len,color,extra)=>Object.assign({
    type:'value',gridIndex:g,position,min:xmin,max:xmax,
    splitLine:{show:false},
    axisLine:{show:true,onZero:false,lineStyle:{color,width:1}},
    axisTick:{show:true,inside:true,length:len,customValues:values,lineStyle:{color:'#333',width:.8}},
    axisLabel:{show:false}
  },extra||{});
  const labelled=row===2?{
    axisLabel:{show:true,customValues:xMajors[col],fontFamily:FONT,fontSize:13,color:'#111',margin:8,hideOverlap:false,showMinLabel:true,showMaxLabel:true},
    name:'{a|(J\u2013K}{s|S}{a|)}',nameLocation:'middle',nameGap:22,
    nameTextStyle:{rich:{a:{fontFamily:FONT,fontSize:17,color:'#111'},s:{fontFamily:FONT,fontSize:10.5,color:'#111',verticalAlign:'bottom',padding:[8,0,0,0]}}}
  }:{};
  xAxis.push(tick('bottom',xMajors[col],6,inCol,labelled));
  xAxis.push(tick('bottom',xMinors[col],3,inCol));
  xAxis.push(tick('top',xMajors[col],6,topColor));
  xAxis.push(tick('top',xMinors[col],3,topColor));
  const ya=(position,color,extra)=>Object.assign({
    type:'value',gridIndex:g,inverse:true,position,min:6,max:17,interval:2,
    splitLine:{show:false},
    axisLine:{show:true,onZero:false,lineStyle:{color,width:1}},
    axisTick:{show:true,inside:true,length:6,lineStyle:{color:'#333',width:.8}},
    minorTick:{show:true,splitNumber:4,length:3,lineStyle:{color:'#333',width:.8}},
    axisLabel:{show:false}
  },extra||{});
  const yLab=col===0?{axisLabel:{show:true,fontFamily:FONT,fontSize:16,color:'#111',margin:8,showMaxLabel:false}}:{};
  const yName=(col===0&&row===1)?{name:'J',nameLocation:'middle',nameRotate:0,nameGap:40,nameTextStyle:{fontFamily:FONT,fontSize:16,color:'#111',padding:[0,0,14,0]}}:{};
  yAxis.push(ya('left',col===0?edgeCol:inCol,Object.assign(yLab,yName)));
  yAxis.push(ya('right',col===3?'#777':inCol));
  return {xAxisIndex:base,yAxisIndex:2*g};
}
function errSeries(ax,data){
  series.push(Object.assign({type:'custom',data,z:2,silent:true,clip:false,
    encode:{x:0,y:1},
    renderItem(p,api){
      const c=api.value(0),J=api.value(1),ex=api.value(2),ey=api.value(3);
      const a=api.coord([c-ex,J]),b=api.coord([c+ex,J]),d=api.coord([c,J-ey]),e=api.coord([c,J+ey]);
      const st={stroke:'#8a8a8a',lineWidth:.8,fill:null};
      return {type:'group',children:[
        {type:'line',shape:{x1:a[0],y1:a[1],x2:b[0],y2:b[1]},style:st},
        {type:'line',shape:{x1:d[0],y1:d[1],x2:e[0],y2:e[1]},style:st}]};
    }},ax));
}
function bandSeries(ax,poly){
  series.push(Object.assign({type:'custom',data:poly,z:1,silent:true,clip:true,encode:{x:0,y:1},
    renderItem(p,api){
      if(p.dataIndex!==0) return null;
      return {type:'polygon',shape:{points:poly.map(q=>api.coord(q))},style:{fill:'#dcdcdc',stroke:null}};
    }},ax));
}
function lineSeries(ax,data,width,color,z){
  series.push(Object.assign({type:'line',data,showSymbol:false,symbol:'none',z:z||6,clip:true,silent:true,
    lineStyle:{color,width},animation:false},ax));
}
function scatter(ax,data,size,filled,z){
  series.push(Object.assign({type:'scatter',data,symbol:'circle',symbolSize:size,z:z||3,clip:false,silent:true,
    itemStyle:filled?{color:'#000',opacity:1}:{color:'#fff',borderColor:'#444',borderWidth:.9,opacity:1}},ax));
}
function ageLabel(ax,l){
  series.push(Object.assign({type:'scatter',data:[[l[1],l[2]]],symbolSize:0,z:7,silent:true,
    label:{show:true,position:'inside',formatter:l[0],fontFamily:FONT,fontSize:17,color:'#111'}},ax));
}
function arrow(ax,seg){
  lineSeries(ax,seg,.8,'#222',7);
  series.push(Object.assign({type:'scatter',data:[seg[1]],symbol:'triangle',symbolSize:[10,8],z:8,silent:true,clip:false,itemStyle:{color:'#000',opacity:1}},ax));
}

const topSets=[ngcAll,herAll,mayAll,muzAll],topErr=[ngcAllErr,herAllErr,mayAllErr,muzAllErr];
const midSets=[ngcCtl,herCtl,mayCtl,muzCtl],midErr=[ngcCtlErr,herCtlErr,mayCtlErr,muzCtlErr];
const selSets=[ngcSel,herSel,maySel,muzSel],selErr=[ngcSelErr,herSelErr,maySelErr,muzSelErr];
const bands=[ngcBand,herBand,mayBand,muzBand];
const isoSets=[[ngcIso,ngcIsoB],[herIso],[mayIso],[muzIso]];
const pmsSets=[[],[],[mayPmsA,mayPmsB,mayPmsC,mayPmsD,mayPmsE],[muzPmsA,muzPmsB,muzPmsC,muzPmsD,muzPmsE]];
const arrows=[null,null,mayArrow,muzArrow];

for(let col=0;col<4;col++){
  title.push({text:clusterNames[col],left:colLefts[col]+67,top:3,textAlign:'center',padding:0,
    textStyle:{fontFamily:FONT,fontSize:12.8,fontWeight:'normal',color:'#222'}});
  let ax=addPanel(0,col);
  errSeries(ax,topErr[col]); scatter(ax,pts(topSets[col]),7.2,true);
  ax=addPanel(1,col);
  errSeries(ax,midErr[col]); scatter(ax,pts(midSets[col]),6.8,true);
  ax=addPanel(2,col);
  bandSeries(ax,bands[col]);
  errSeries(ax,selErr[col]);
  scatter(ax,pts(selSets[col]),9.4,false);
  pmsSets[col].forEach(l=>lineSeries(ax,l,.8,'#333',5));
  isoSets[col].forEach(l=>lineSeries(ax,l,1.3,'#000',6));
  if(arrows[col]) arrow(ax,arrows[col]);
  ageLabel(ax,ageLabels[col]);
}

const chart=echarts.init(document.getElementById('c'),null,{renderer:'canvas'});
chart.setOption({animation:false,backgroundColor:'#fff',title,grid,xAxis,yAxis,series});
</script></body></html>
